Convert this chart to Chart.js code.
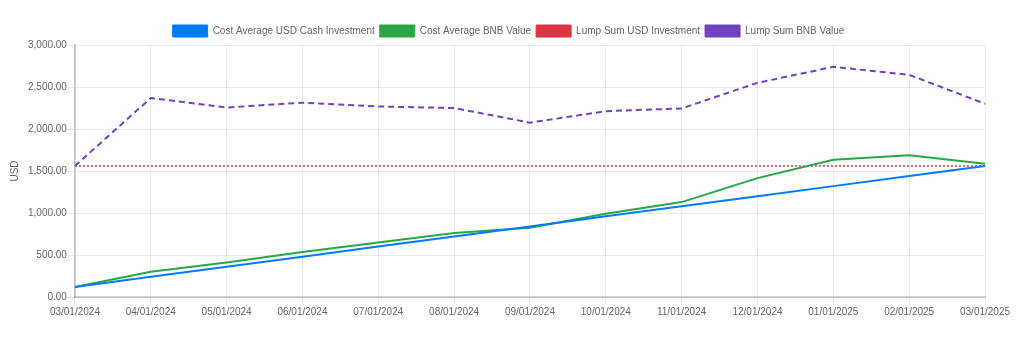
<!DOCTYPE html>
<html>
<head>
<meta charset="utf-8">
<script src="https://cdn.jsdelivr.net/npm/chart.js@4/dist/chart.umd.min.js"></script>
<style>
  html, body { margin: 0; padding: 0; background: #fff; }
  #wrap { width: 1024px; height: 340px; }
</style>
</head>
<body>
<div id="wrap"><canvas id="chart1"></canvas></div>
<script>
// monthly buy dates
var months = ["03/01/2024","04/01/2024","05/01/2024","06/01/2024","07/01/2024","08/01/2024","09/01/2024",
              "10/01/2024","11/01/2024","12/01/2024","01/01/2025","02/01/2025","03/01/2025"];

// $120 per month, accumulated
var dcaCash = [120,240,360,480,600,720,840,960,1080,1200,1320,1440,1560];
var dcaValue = [120,300,410,537,648,763,825,990,1130,1415,1633,1688,1586];
var lumpCash = [1560,1560,1560,1560,1560,1560,1560,1560,1560,1560,1560,1560,1560];
var lumpValue = [1560,2368,2256,2313,2268,2250,2076,2212,2245,2550,2740,2645,2301];

var yTicks = { min: 0, max: 3000, step: 500 };

Chart.defaults.font.family = "'Liberation Sans', Arial, Helvetica, sans-serif";
Chart.defaults.font.size = 10;
Chart.defaults.color = "#666";

function line(label, data, color, dash, width) {
  return {
    label: label,
    data: data,
    borderColor: color,
    backgroundColor: color,
    borderWidth: width,
    borderDash: dash,
    pointRadius: 0,
    pointHoverRadius: 0,
    tension: 0,
    fill: false
  };
}

// pull the plot a little closer to the legend
var tightLegend = {
  id: 'tightLegend',
  beforeInit: function(chart) {
    var fit = chart.legend.fit;
    chart.legend.fit = function() {
      fit.call(this);
      this.height -= 2;
    };
  }
};

new Chart(document.getElementById("chart1"), {
  type: 'line',
  data: {
    labels: months,
    datasets: [
      line("Cost Average USD Cash Investment", dcaCash, "#007bff", [], 2),
      line("Cost Average BNB Value", dcaValue, "#28a745", [], 2),
      line("Lump Sum USD Investment", lumpCash, "#dc3545", [2, 2], 1.5),
      line("Lump Sum BNB Value", lumpValue, "#6f42c1", [6, 4], 2)
    ]
  },
  plugins: [tightLegend],
  options: {
    responsive: true,
    maintainAspectRatio: false,
    animation: false,
    layout: { padding: { left: 5, right: 12, top: 20, bottom: 21 } },
    plugins: {
      legend: {
        labels: {
          boxWidth: 35,
          boxHeight: 12,
          padding: 5,
          // solid boxes in the legend, whatever the line dash
          generateLabels: function(chart) {
            var items = Chart.defaults.plugins.legend.labels.generateLabels(chart);
            items.forEach(function(it) {
              it.lineDash = [];
              it.lineWidth = 1;
            });
            return items;
          }
        }
      },
      tooltip: { enabled: false }
    },
    scales: {
      x: {
        grid: { color: "rgba(0,0,0,0.08)" },
        border: { color: "rgba(0,0,0,0.18)", width: 2 },
        ticks: { maxRotation: 0, autoSkip: false, padding: 1 },
        // leave room on the right past the last date label
        afterFit: function(scale) { scale.paddingRight = 39; }
      },
      y: {
        min: yTicks.min,
        max: yTicks.max,
        grid: { color: "rgba(0,0,0,0.08)" },
        border: { color: "rgba(0,0,0,0.18)", width: 2 },
        title: { display: true, text: "USD", padding: { top: 4, bottom: 7 } },
        ticks: {
          stepSize: yTicks.step,
          padding: 0,
          callback: function(v) {
            return v.toLocaleString("en-US", { minimumFractionDigits: 2, maximumFractionDigits: 2 });
          }
        }
      }
    }
  }
});
</script>
</body>
</html>
